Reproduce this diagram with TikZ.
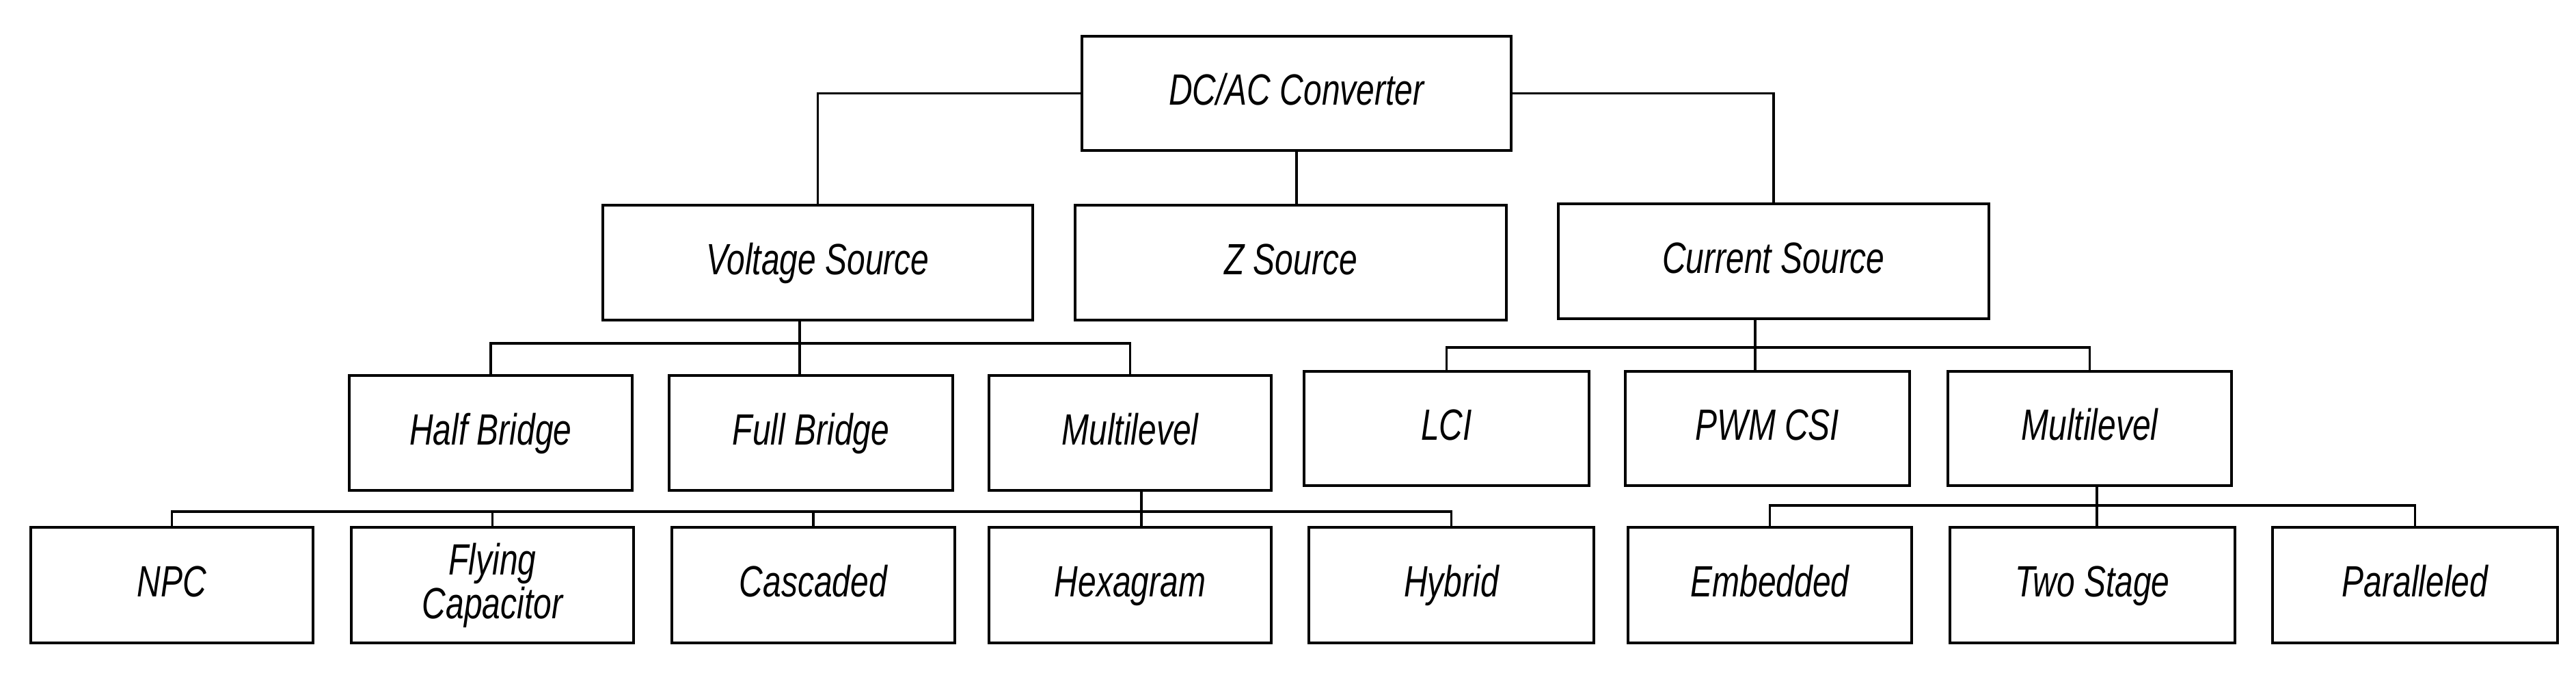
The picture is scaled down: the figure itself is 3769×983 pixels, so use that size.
\documentclass[tikz,border=0pt]{standalone}
\usepackage{fontspec}
\setmainfont{Liberation Sans}[ItalicFeatures={FakeStretch=0.75},UprightFeatures={FakeStretch=0.75,FakeSlant=0.2}]
\begin{document}
\begin{tikzpicture}[x=1pt,y=-1pt,
  box/.style={draw,line width=4pt,rectangle,inner sep=0pt,align=center,text height=46pt,text depth=12pt,font=\fontsize{64}{66}\selectfont\itshape},
  con/.style={line width=3.2pt}]
\useasboundingbox (0,0) rectangle (3769,983);
\node[box,minimum width=628,minimum height=167] (root) at (1897,136.5) {DC/AC Converter};
\node[box,minimum width=629,minimum height=168] (vs) at (1196.5,384) {Voltage Source};
\node[box,minimum width=631,minimum height=168] (zs) at (1888.5,384) {Z Source};
\node[box,minimum width=630,minimum height=168] (cs) at (2595,382) {Current Source};
\node[box,minimum width=414,minimum height=168] (hb) at (718,633) {Half Bridge};
\node[box,minimum width=415,minimum height=168] (fb) at (1186.5,633) {Full Bridge};
\node[box,minimum width=413,minimum height=168] (ml) at (1653.5,633) {Multilevel};
\node[box,minimum width=417,minimum height=167] (lci) at (2116.5,626.5) {LCI};
\node[box,minimum width=416,minimum height=167] (pwm) at (2586,626.5) {PWM CSI};
\node[box,minimum width=415,minimum height=167] (mc) at (3057.5,626.5) {Multilevel};
\node[box,minimum width=413,minimum height=169] (npc) at (251.5,855.5) {NPC};
\node[box,minimum width=413,minimum height=169,text height=,text depth=] (fc) at (720.5,855.5) {Flying\\[-2pt]Capacitor};
\node[box,minimum width=414,minimum height=169] (cas) at (1190,855.5) {Cascaded};
\node[box,minimum width=413,minimum height=169] (hex) at (1653.5,855.5) {Hexagram};
\node[box,minimum width=417,minimum height=169] (hyb) at (2123.5,855.5) {Hybrid};
\node[box,minimum width=415,minimum height=169] (emb) at (2589.5,855.5) {Embedded};
\node[box,minimum width=417,minimum height=169] (two) at (3061.5,855.5) {Two Stage};
\node[box,minimum width=417,minimum height=169] (par) at (3533.5,855.5) {Paralleled};
% top level
\draw[con] (root.west) -| (vs.north);
\draw[con] (root.east) -| (cs.north);
\draw[con] (root.south) -- (root.south |- zs.north);
% voltage source
\coordinate (b1) at (1170,502);
\draw[con] (b1 |- vs.south) -- (b1);
\draw[con] (hb.north) |- (b1) -| (ml.north);
\draw[con] (b1) -- (b1 |- fb.north);
% current source
\coordinate (b2) at (2568,508);
\draw[con] (b2 |- cs.south) -- (b2);
\draw[con] (lci.north) |- (b2) -| (mc.north);
\draw[con] (b2) -- (b2 |- pwm.north);
% multilevel VS
\coordinate (b3) at (1670,748);
\draw[con] (b3 |- ml.south) -- (b3);
\draw[con] (npc.north) |- (b3) -| (hyb.north);
\draw[con] (fc.north |- b3) -- (fc.north);
\draw[con] (cas.north |- b3) -- (cas.north);
\draw[con] (b3) -- (b3 |- hex.north);
% multilevel CS
\coordinate (b4) at (3068,739);
\draw[con] (b4 |- mc.south) -- (b4);
\draw[con] (emb.north) |- (b4) -| (par.north);
\draw[con] (b4) -- (b4 |- two.north);
\end{tikzpicture}
\end{document}
